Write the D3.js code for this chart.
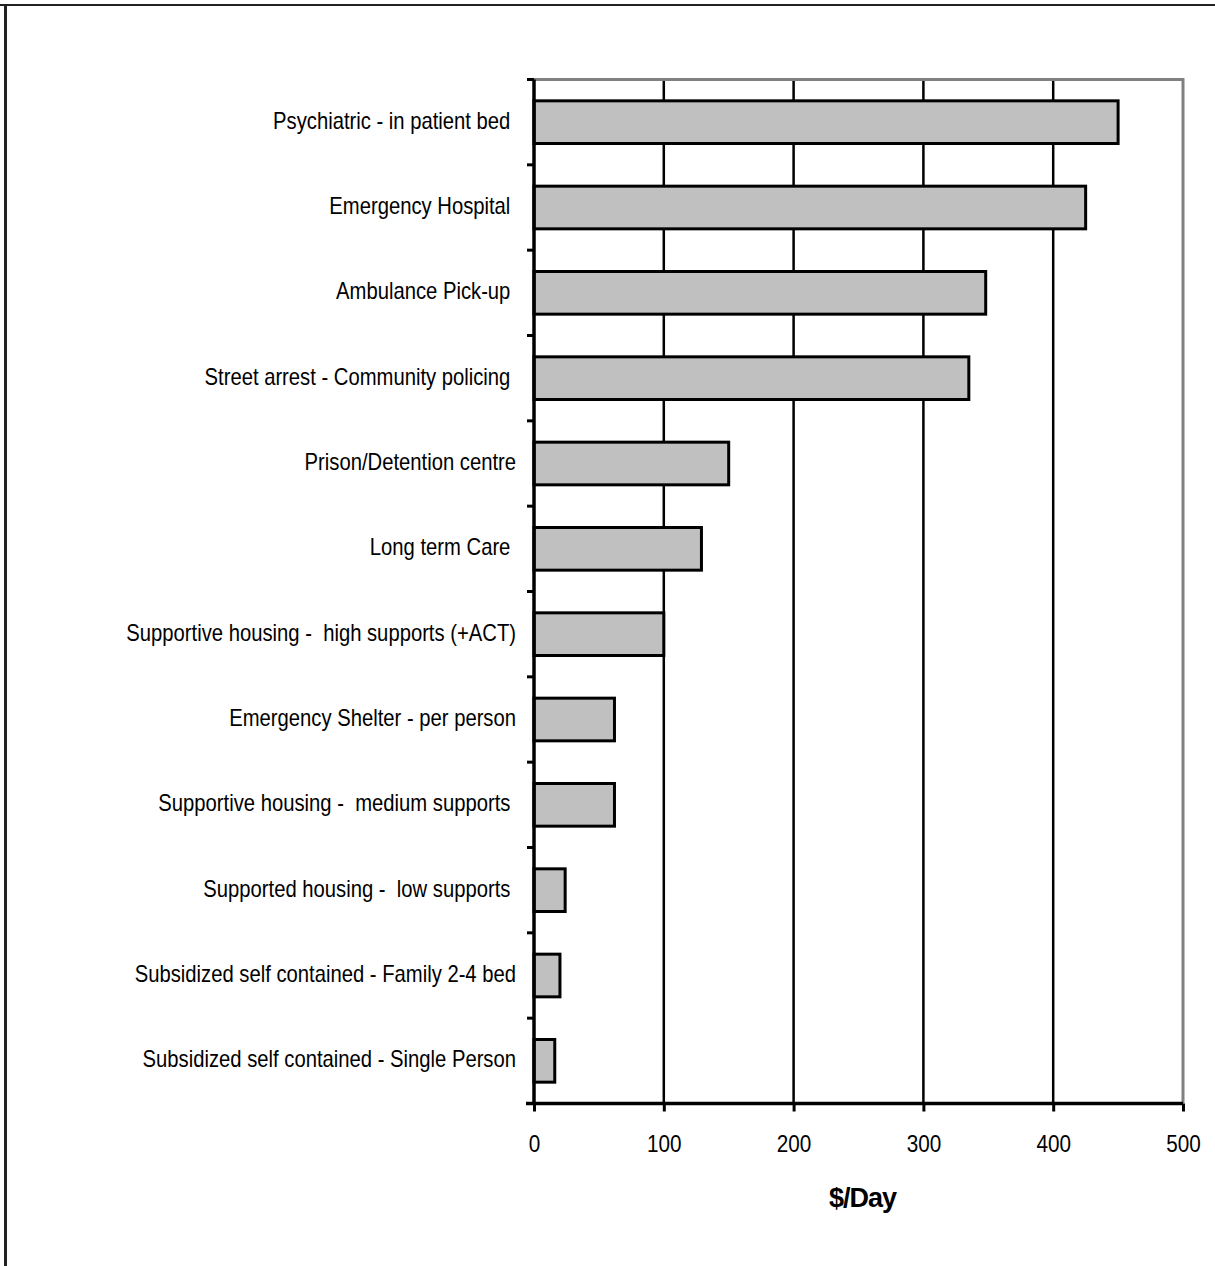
<!DOCTYPE html>
<html><head><meta charset="utf-8">
<script src="https://cdn.jsdelivr.net/npm/d3@7"></script>
<style>body{margin:0;background:#fff}svg{display:block}</style>
</head><body>
<svg id="chart" width="1215" height="1266"></svg>
<script>
const categories = [
  "Psychiatric - in patient bed ",
  "Emergency Hospital ",
  "Ambulance Pick-up ",
  "Street arrest - Community policing ",
  "Prison/Detention centre",
  "Long term Care ",
  "Supportive housing -  high supports (+ACT)",
  "Emergency Shelter - per person",
  "Supportive housing -  medium supports ",
  "Supported housing -  low supports ",
  "Subsidized self contained - Family 2-4 bed",
  "Subsidized self contained - Single Person"
];
const values = [450, 425, 348, 335, 150, 129, 100, 62, 62, 24, 20, 16];
const xTicks = [0, 100, 200, 300, 400, 500];
const gridTicks = [100, 200, 300, 400];
const xTitle = "$/Day";

(function () {
const svg = d3.select("#chart");
const pLeft = 534, pRight = 1183, pTop = 79.5, pBottom = 1103.5;
const x = d3.scaleLinear().domain([0, 500]).range([pLeft, pRight]);
const y = d3.scaleBand().domain(categories).range([pTop, pBottom]).paddingInner(0.5).paddingOuter(0.25);

// outer frame (top + left)
svg.append("line").attr("x1", 0).attr("x2", 1215).attr("y1", 5).attr("y2", 5)
  .attr("stroke", "#222").attr("stroke-width", 2);
svg.append("line").attr("x1", 5.5).attr("x2", 5.5).attr("y1", 4).attr("y2", 1266)
  .attr("stroke", "#222").attr("stroke-width", 3);

// gridlines
svg.append("g").selectAll("line").data(gridTicks).join("line")
  .attr("x1", d => x(d)).attr("x2", d => x(d))
  .attr("y1", pTop).attr("y2", pBottom)
  .attr("stroke", "#000").attr("stroke-width", 2.5);

// plot border (top + right, gray)
svg.append("path")
  .attr("d", `M${x(0)},${pTop}H${x(500)}V${pBottom}`)
  .attr("fill", "none").attr("stroke", "#808080").attr("stroke-width", 3);

// bars
svg.append("g").selectAll("rect").data(values).join("rect")
  .attr("x", x(0))
  .attr("y", (d, i) => y(categories[i]))
  .attr("width", d => x(d) - x(0))
  .attr("height", y.bandwidth())
  .attr("fill", "#c0c0c0").attr("stroke", "#000").attr("stroke-width", 3);

// x axis
const xAxis = svg.append("g").attr("transform", `translate(0,${pBottom})`)
  .call(d3.axisBottom(x).tickValues(xTicks).tickSize(8).tickSizeOuter(0));
xAxis.select(".domain").attr("stroke", "#000").attr("stroke-width", 3.5)
  .attr("d", `M${x(0) - 8},0H${x(500)}`);
xAxis.selectAll(".tick line").attr("stroke", "#000").attr("stroke-width", 3);
xAxis.selectAll(".tick text")
  .attr("y", 0).attr("dy", 0)
  .attr("transform", "translate(0,48.5) scale(0.9,1)")
  .attr("font-family", "Liberation Sans, Arial, sans-serif")
  .attr("font-size", 23).attr("fill", "#000");

// y axis line
svg.append("line").attr("x1", x(0)).attr("x2", x(0)).attr("y1", pTop).attr("y2", pBottom)
  .attr("stroke", "#000").attr("stroke-width", 3.5);
// y ticks between categories
const yTickPos = d3.range(categories.length + 1).map(i => pTop + i * y.step());
svg.append("g").selectAll("line").data(yTickPos).join("line")
  .attr("x1", x(0) - 7).attr("x2", x(0)).attr("y1", d => d).attr("y2", d => d)
  .attr("stroke", "#000").attr("stroke-width", 3);

// y labels
svg.append("g").selectAll("text").data(categories).join("text")
  .attr("transform", d => `translate(${x(0) - 18},${y(d) + y.bandwidth() / 2}) scale(0.88,1)`)
  .attr("dy", "0.28em")
  .attr("text-anchor", "end")
  .attr("xml:space", "preserve")
  .attr("font-family", "Liberation Sans, Arial, sans-serif")
  .attr("font-size", 23).attr("fill", "#000")
  .style("white-space", "pre")
  .text(d => d);

// x title
svg.append("text")
  .attr("x", (x(0) + x(500)) / 2 + 4).attr("y", 1207)
  .attr("text-anchor", "middle")
  .attr("font-family", "Liberation Sans, Arial, sans-serif")
  .attr("font-weight", "bold").attr("font-size", 27)
  .attr("letter-spacing", -1)
  .attr("fill", "#000")
  .text(xTitle);
})();
</script>
</body></html>
